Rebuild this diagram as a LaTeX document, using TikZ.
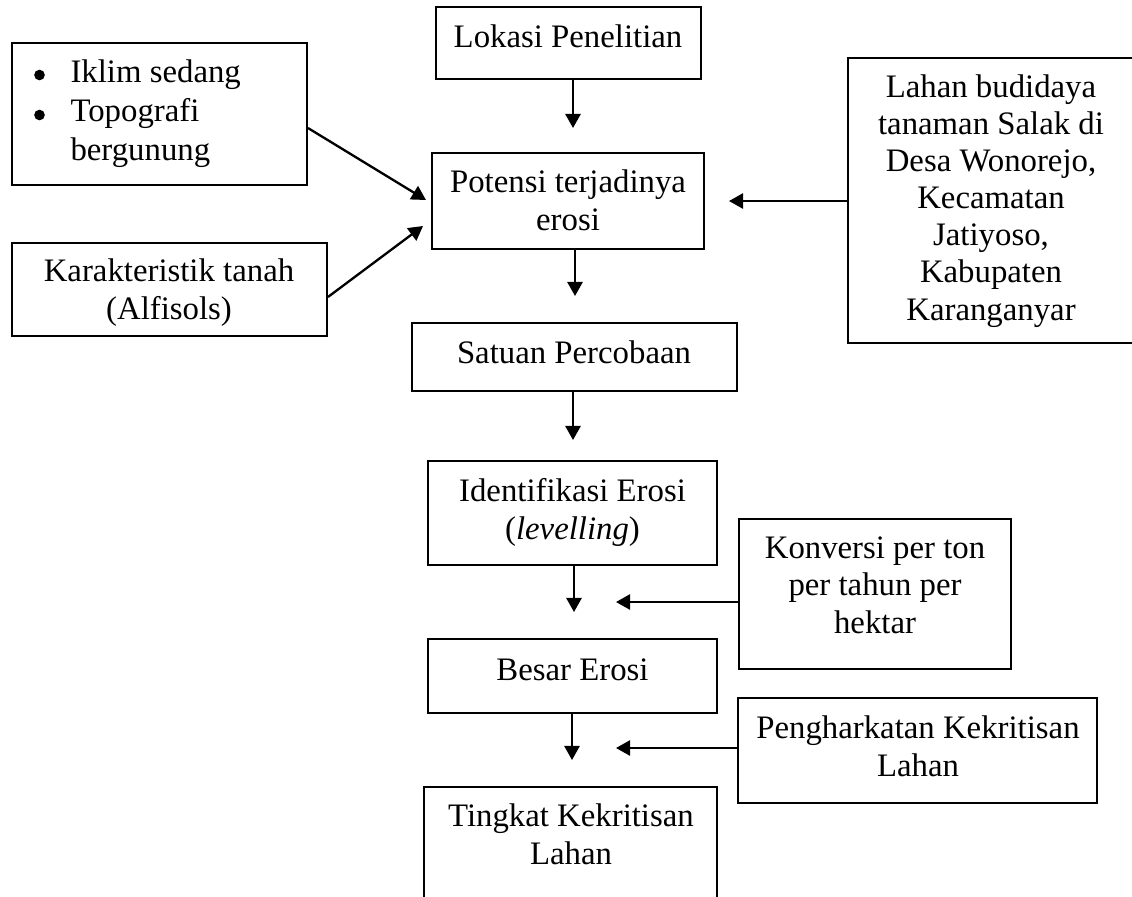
\documentclass[tikz,border=0pt]{standalone}
\usepackage{fontspec}
\setmainfont{Liberation Serif}
\usetikzlibrary{arrows.meta,fit}
\begin{document}
\begin{tikzpicture}[x=0.366pt,y=-0.366pt,
  box/.style={draw, line width=0.7pt, inner sep=0pt},
  txt/.style={anchor=base, align=center, inner sep=0pt, font=\fontsize{12}{13.6}\selectfont},
  dot/.style={circle, fill, inner sep=0pt, minimum size=3.9pt},
  arr/.style={line width=0.85pt, -{Triangle[length=5.2pt,width=5.6pt]}}]
\useasboundingbox (0,0) rectangle (1132,896);
% boxes
\node[box, fit={(436,7)(701,79)}] (lok) {};
\node[box, fit={(432,153)(704,249)}] (pot) {};
\node[box, fit={(12,43)(307,185)}] (bul) {};
\node[box, fit={(12,243)(327,336)}] (kar) {};
\node[box, fit={(848,58)(1135,343)}] (lhn) {};
\node[box, fit={(412,323)(737,391)}] (sat) {};
\node[box, fit={(428,461)(717,565)}] (idf) {};
\node[box, fit={(739,519)(1011,669)}] (kon) {};
\node[box, fit={(428,639)(717,713)}] (bes) {};
\node[box, fit={(738,698)(1097,803)}] (phk) {};
\node[box, fit={(424,787)(717,930)}] (tkt) {};
% texts (anchored at the baseline of the last line)
\node[txt] (lok-t) at (568,47) {Lokasi Penelitian};
\node[txt] (pot-t) at (568,230) {Potensi terjadinya\\erosi};
\node[dot] (b1) at (39.5,75) {};
\node[dot] (b2) at (39.5,115) {};
\node[anchor=base west, align=left, inner sep=0pt, font=\fontsize{12}{14.1}\selectfont] (bul-t) at (70,160)
  {Iklim sedang\\Topografi\\bergunung};
\node[txt] (kar-t) at (169,319) {Karakteristik tanah\\(Alfisols)};
\node[txt] (lhn-t) at (991,320) {Lahan budidaya\\tanaman Salak di\\Desa Wonorejo,\\Kecamatan\\Jatiyoso,\\Kabupaten\\Karanganyar};
\node[txt] (sat-t) at (574,363) {Satuan Percobaan};
\node[txt] (idf-t) at (572.5,539) {Identifikasi Erosi\\(\textit{levelling})};
\node[txt] (kon-t) at (875,633) {Konversi per ton\\per tahun per\\hektar};
\node[txt] (bes-t) at (572.5,680) {Besar Erosi};
\node[txt] (phk-t) at (918,776) {Pengharkatan Kekritisan\\Lahan};
\node[txt] (tkt-t) at (571,864) {Tingkat Kekritisan\\Lahan};
% arrows
\coordinate (t1) at (573,128);
\coordinate (t2) at (575,296);
\coordinate (t3) at (573,440);
\coordinate (t4) at (574,612);
\coordinate (t5) at (572,760);
\coordinate (s6) at (0,128);
\coordinate (t6) at (426,200);
\coordinate (s7) at (0,297);
\coordinate (t7) at (423,226);
\coordinate (t8) at (729,201);
\coordinate (t9) at (616,602);
\coordinate (t10) at (616,748);
\draw[arr] (lok.south -| t1) -- (t1);
\draw[arr] (pot.south -| t2) -- (t2);
\draw[arr] (sat.south -| t3) -- (t3);
\draw[arr] (idf.south -| t4) -- (t4);
\draw[arr] (bes.south -| t5) -- (t5);
\draw[arr] (bul.east |- s6) -- (t6);
\draw[arr] (kar.east |- s7) -- (t7);
\draw[arr] (lhn.west |- t8) -- (t8);
\draw[arr] (kon.west |- t9) -- (t9);
\draw[arr] (phk.west |- t10) -- (t10);
\end{tikzpicture}
\end{document}
